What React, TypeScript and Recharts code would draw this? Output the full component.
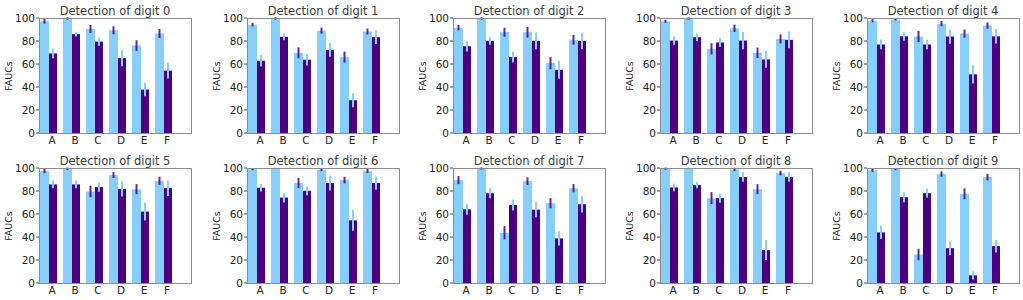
import { BarChart, Bar, XAxis, YAxis, ErrorBar } from "recharts";

const categories = ["A", "B", "C", "D", "E", "F"];
const digits = [0, 1, 2, 3, 4, 5, 6, 7, 8, 9];
const yTicks = [0, 20, 40, 60, 80, 100];

// light blue series (one row per digit)
const lightValues = [
  [97.1, 99.6, 90.5, 89.3, 76, 86.5],
  [94.2, 99.6, 69.7, 89, 66, 88.2],
  [91.6, 99.6, 87.6, 87.6, 60.8, 81],
  [97.1, 99.6, 73.2, 91, 69.7, 81.8],
  [97.7, 98.8, 83.9, 95.1, 86.5, 93.4],
  [97.4, 99.4, 79.6, 93.9, 81.6, 88.9],
  [99.1, 99.7, 86.9, 98.5, 89.5, 97.4],
  [89.5, 99.6, 43.7, 88.6, 69.4, 82.5],
  [99.4, 99.7, 73.8, 98.8, 81.6, 95.6],
  [98, 99.1, 24.8, 94.8, 77.6, 92.1],
];
const lightErrors = [
  [2, 1, 3.5, 3.5, 4.6, 3.9],
  [1.5, 1, 4.8, 2.6, 4.8, 2.6],
  [2.4, 1, 3.9, 4.6, 5.3, 4.2],
  [1.3, 1, 4.9, 3.2, 4.6, 3.9],
  [1.3, 1, 4.8, 2.3, 3.5, 2.7],
  [1.9, 1, 5, 2.6, 4.4, 3.5],
  [1, 0.5, 4.4, 1.2, 2.9, 1.8],
  [3.5, 1, 5.7, 3.4, 4.4, 3.6],
  [1, 0.5, 5.2, 1.5, 4.4, 2],
  [1.3, 1, 5, 2.3, 4.7, 2.9],
];

// dark purple series
const darkValues = [
  [69.2, 86, 79.5, 65.1, 37.8, 54.2],
  [62.8, 83.6, 63.7, 72.3, 28.5, 83.3],
  [75.5, 80.1, 66, 80.1, 55, 80],
  [80.4, 83.3, 78.7, 80.4, 64, 81],
  [77, 84.1, 77, 83.9, 51, 84.1],
  [85.7, 85.7, 83.4, 81.9, 62.1, 82.5],
  [82.8, 74.3, 80.2, 86.9, 54.5, 86.9],
  [64.1, 78.1, 67.9, 63.8, 38.8, 68.5],
  [83.1, 85.1, 73.8, 92.1, 28.6, 92.1],
  [44, 74.6, 78.1, 30.3, 6.7, 32.1],
];
const darkErrors = [
  [4.3, 2, 3.6, 7, 5.8, 6.8],
  [5, 2.9, 5, 6, 6, 6],
  [4.6, 3.3, 4.6, 7.2, 7.9, 7.2],
  [3.6, 3.2, 4, 7.5, 7.3, 7.3],
  [4.2, 3.9, 4.2, 6.2, 7.9, 6.3],
  [3.4, 3.2, 4, 6.7, 7.7, 6.8],
  [3.2, 4.2, 4, 6.5, 9, 5.8],
  [4.8, 4.4, 4.8, 6.7, 6.1, 7.3],
  [3.4, 2.8, 4.1, 4.1, 8.7, 4.1],
  [5.8, 4.4, 3.8, 6.1, 3.6, 5.5],
];

const LIGHT = "#87CEFA";
const DARK = "#4B0082";
const SPINE = "#8c8c8c";
const FONT = "DejaVu Sans";

// panel geometry
const panelLefts = [0, 208, 414, 621, 828];
const PANEL_W = 207;
const PANEL_H = 150;
const PLOT_LEFT = 39;
const PLOT_TOP = 18;
const PLOT_W = 152;
const PLOT_H = 115;
const Y_AXIS_W = 30;

function XTick(props: any) {
  const { x, y, payload } = props;
  return (
    <text x={x + 3.5} y={y + 7.5} textAnchor="middle" fontSize={10.5} fontFamily={FONT} fill="#222">
      {payload.value}
    </text>
  );
}

function Panel({ d }: { d: number }) {
  const data = categories.map((c, i) => ({
    cat: c,
    light: lightValues[d][i],
    lightErr: lightErrors[d][i],
    dark: darkValues[d][i],
    darkErr: darkErrors[d][i],
  }));
  const left = panelLefts[d % 5];
  const top = d < 5 ? 0 : 150;
  return (
    <div style={{ position: "absolute", left, top, width: PANEL_W, height: PANEL_H }}>
      <div
        style={{
          position: "absolute",
          left: PLOT_LEFT,
          top: 4,
          width: PLOT_W,
          textAlign: "center",
          fontFamily: FONT,
          fontSize: 11.5,
          fontWeight: 400,
          lineHeight: "14px",
          color: "#3a3a3a",
          whiteSpace: "nowrap",
        }}
      >
        Detection of digit {d}
      </div>
      <div
        style={{
          position: "absolute",
          left: -11.5,
          top: 69,
          width: 40,
          height: 14,
          lineHeight: "14px",
          textAlign: "center",
          fontFamily: FONT,
          fontSize: 9.5,
          color: "#222",
          transform: "rotate(-90deg)",
        }}
      >
        FAUCs
      </div>
      <BarChart
        width={PANEL_W}
        height={PANEL_H}
        data={data}
        margin={{
          top: PLOT_TOP,
          right: PANEL_W - PLOT_LEFT - PLOT_W,
          bottom: 0,
          left: PLOT_LEFT - Y_AXIS_W,
        }}
        barGap={0}
        style={{ position: "absolute", left: 0, top: 0 }}
      >
        <XAxis
          dataKey="cat"
          height={PANEL_H - PLOT_TOP - PLOT_H}
          padding={{ left: -2, right: 16 }}
          axisLine={false}
          tickLine={false}
          tickSize={3}
          tickMargin={0}
          tick={<XTick />}
          interval={0}
        />
        <YAxis
          domain={[0, 100]}
          ticks={yTicks}
          width={Y_AXIS_W}
          axisLine={false}
          tickLine={{ stroke: "#444" }}
          tickSize={3}
          tickMargin={1}
          interval={0}
          allowDataOverflow
          tick={{ fontSize: 10.5, fontFamily: FONT, fill: "#222" }}
        />
        <Bar dataKey="light" fill={LIGHT} barSize={9} isAnimationActive={false}>
          <ErrorBar dataKey="lightErr" width={0} stroke={DARK} strokeOpacity={0.85} strokeWidth={2} direction="y" />
        </Bar>
        <Bar dataKey="dark" fill={DARK} barSize={8} isAnimationActive={false}>
          <ErrorBar dataKey="darkErr" width={0} stroke={LIGHT} strokeWidth={2} direction="y" />
        </Bar>
      </BarChart>
      {/* axes box */}
      <div
        style={{
          position: "absolute",
          left: PLOT_LEFT,
          top: PLOT_TOP,
          width: PLOT_W + 1,
          height: PLOT_H + 1,
          boxSizing: "border-box",
          border: `1px solid ${SPINE}`,
          pointerEvents: "none",
        }}
      />
    </div>
  );
}

export default function App() {
  return (
    <div style={{ position: "absolute", left: 0, top: 0, width: 1023, height: 300, background: "#fff" }}>
      {digits.map((d) => (
        <Panel key={d} d={d} />
      ))}
    </div>
  );
}
